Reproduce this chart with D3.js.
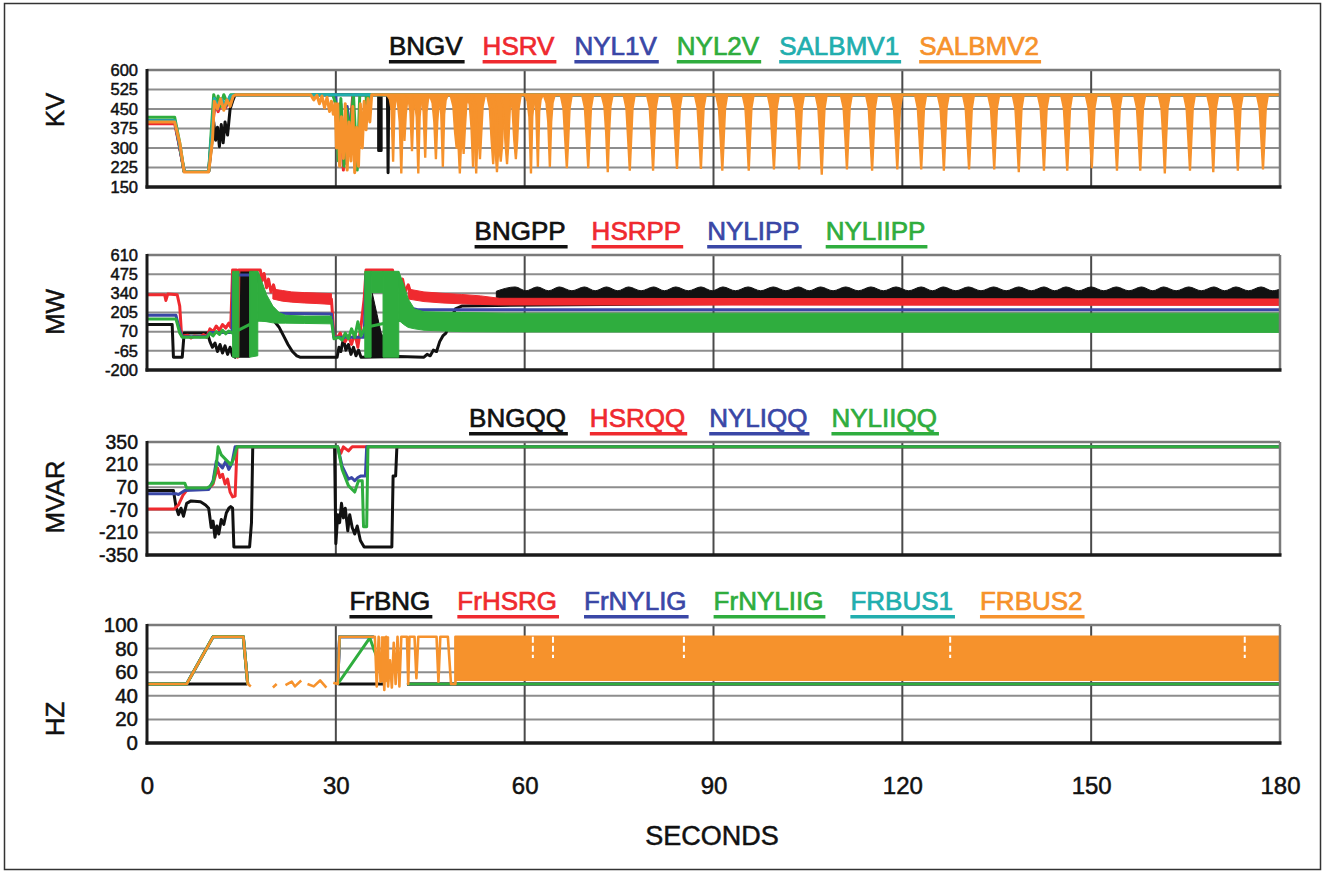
<!DOCTYPE html>
<html><head><meta charset="utf-8">
<script src="https://cdn.jsdelivr.net/npm/d3@7"></script>
<style>html,body{margin:0;padding:0;background:#fff;} svg{display:block;}</style>
</head><body>
<svg id="chart" width="1329" height="875"></svg>
<script>
// ================= DATA =================
const timeTicks = [0, 30, 60, 90, 120, 150, 180];
const timeTitle = "SECONDS";

// ---- Panel 1 : KV ----
const kvTicks = [600, 525, 450, 375, 300, 225, 150];
const kvNames = ["BNGV", "HSRV", "NYL1V", "NYL2V", "SALBMV1", "SALBMV2"];
const bngv = [[0,405],[4.4,405],[5.2,300],[5.9,210],[9.8,210],[10.3,320],[10.6,400],[10.9,330],[11.2,380],[11.5,305],[11.8,390],[12.1,320],[12.4,400],[12.8,350],[13.2,450],[13.6,480],[14,505],[36.8,505],[36.8,290],[37.2,290],[37.2,505],[38.2,505],[38.3,205],[38.4,505],[180,505]];
const hsrv = [[0,393],[4.4,393],[5.2,300],[5.9,210],[9.8,210],[10.4,380],[10.8,470],[11.3,440],[11.8,470],[12.5,455],[13.2,490],[14,505],[29.8,505],[30.3,330],[30.7,470],[31.2,215],[31.6,450],[32.2,360],[32.7,505],[180,505]];
const nyl1v = [[0,405],[4.4,405],[5.2,305],[5.9,210],[9.8,210],[10.4,390],[10.8,480],[11.3,450],[11.8,480],[12.5,460],[13.2,495],[14,505],[30,505],[30.4,290],[30.8,470],[31.4,240],[31.8,460],[32.4,330],[32.8,505],[180,505]];
const nyl2v = [[0,418],[4.4,418],[5.2,320],[5.9,210],[9.8,210],[10.3,400],[10.6,505],[11,470],[11.3,500],[11.7,460],[12.2,505],[12.8,470],[13.3,505],[29.5,505],[30,470],[30.4,250],[30.8,490],[31.3,230],[31.7,450],[32.2,350],[32.8,505],[33.4,215],[33.8,505],[34.8,505],[35,420],[35.2,505],[180,505]];
const salbmv1 = [[0,405],[4.4,405],[5.2,310],[5.9,210],[9.8,210],[10.4,395],[10.7,490],[11.3,460],[11.8,490],[12.5,465],[13.2,500],[14,505],[180,505]];
const salbmv2 = [[0,400],[4.4,400],[5.2,320],[5.9,208],[9.8,208],[10.4,330],[10.7,480],[11.2,450],[11.7,490],[12.2,445],[12.7,485],[13.2,460],[13.7,500],[14.1,505],[26,505],[26.5,485],[27,503],[27.4,470],[27.8,500],[28.2,455],[28.6,495],[29,440],[29.3,480],[29.6,430],[29.9,470],[30.1,300],[30.3,470],[30.6,230],[30.9,420],[31.2,260],[31.5,470],[31.8,215],[32.1,400],[32.4,250],[32.7,460],[33,205],[33.3,380],[33.6,230],[33.9,470],[34.2,300],[34.5,480],[34.8,370],[35.1,490],[35.4,400],[35.7,505],[180,505]];
// SALBMV2 periodic voltage dips (time, level of dense part, minimum)
const kvDipTop = 505;
const kvDipT    = [39.1,40.4,40.9,42.1,43.1,44.2,45.9,47.0,49.2,49.7,50.3,51.8,52.3,52.9,55.0,55.6,56.2,57.2,58.6,61.0,62.1,64.0,66.7,70.1,73.2,76.7,80.4,84.2,88.0,91.4,95.6,99.6,103.6,107.2,111.2,115.2,119.2,123.0,126.6,130.6,134.6,138.5,142.5,146.2,150.1,154.1,157.8,161.7,165.7,169.4,173.3,177.3];
const kvDipCore = [450,400,430,440,420,440,400,430,360,330,380,380,370,360,330,300,310,320,330,420,440,400,330,340,360,330,340,330,340,330,340,330,340,330,340,330,340,330,340,330,340,330,340,330,340,330,340,340,330,340,340,330];
const kvDipMin  = [250,205,330,290,205,265,260,230,300,205,280,230,205,260,240,210,250,240,260,205,230,230,225,225,210,215,215,222,222,215,215,220,220,200,220,215,220,220,215,220,220,210,215,215,225,215,215,205,215,210,215,220];

// ---- Panel 2 : MW ----
const mwTicks = [610, 475, 340, 205, 70, -65, -200];
const mwNames = ["BNGPP", "HSRPP", "NYLIPP", "NYLIIPP"];
const bngpp = [[0,120],[4.0,120],[4.2,-110],[5.6,-110],[5.9,60],[9.6,60],[10,0],[10.4,-40],[10.8,-10],[11.2,-70],[11.6,-20],[12,-80],[12.4,-30],[12.8,-90],[13.2,-40],[13.6,-100],[14,-110],[14.3,490],[16.6,490],[17,480],[17.5,440],[18,400],[18.5,330],[19,250],[19.5,170],[20.3,140],[21,100],[21.7,40],[22.4,-20],[23.1,-70],[23.8,-100],[24.3,-110],[30.2,-110],[30.5,-40],[30.8,-70],[31.2,20],[31.6,-60],[32,-20],[32.4,-90],[32.8,-40],[33.2,-100],[33.6,-60],[34,-110],[40,-105],[44,-110],[44.5,-90],[45,-100],[45.5,-60],[46,-70],[46.5,0],[47,40],[47.5,60],[48,120],[48.5,180],[49,230],[50,250],[55.5,255],[180,300]];
const bngppBands = [
  [[14.6,-110,495],[16.3,-110,495]],
  [[35.2,-110,100],[35.8,-110,340],[36.5,-110,200],[37.2,-110,60],[38,-110,0],[39,-110,-60],[40,-110,-100]],
  [[55.5,295,355],[58.5,295,385],[60.2,295,358],[62,295,385],[63.8,295,358],[65.5,295,385],[67.5,295,358],[69.5,295,385],[71.2,295,358],[73,295,385],[74.8,295,358],[76.5,295,385],[78.5,295,358],[80.5,295,385],[82.2,295,358],[84,295,385],[86,295,358],[88,295,385],[89.8,295,358],[91.5,295,385],[93.5,295,358],[95.5,295,385],[97.5,295,358],[99.5,295,385],[101.5,295,358],[103.5,295,385],[105.2,295,358],[107,295,385],[109,295,358],[111,295,385],[113,295,358],[115,295,385],[117,295,358],[119,295,385],[121,295,358],[123,295,385],[124.8,295,358],[126.5,295,385],[128.5,295,358],[130.5,295,385],[132.5,295,358],[134.5,295,385],[136.5,295,358],[138.5,295,385],[140.5,295,358],[142.5,295,385],[144.2,295,358],[146,295,385],[148,295,358],[150,295,385],[152,295,358],[154,295,385],[156,295,358],[158,295,385],[159.8,295,358],[161.5,295,385],[163.5,295,358],[165.5,295,385],[167.5,295,358],[169.5,295,385],[171.2,295,358],[173,295,385],[175,295,358],[177,295,385],[178.8,295,358],[180,295,370]]
];
const hsrpp = [[0,330],[2.8,330],[3.0,290],[3.3,335],[4.8,330],[5.2,250],[5.5,40],[6.5,45],[7,25],[7.5,40],[8.5,35],[9,50],[9.5,30],[10,90],[10.5,70],[11,110],[11.5,80],[12,120],[12.5,95],[13,130],[13.3,100],[13.6,505],[14.2,505],[14.4,-110],[14.6,505],[18,505],[18.3,430],[18.6,480],[19,380],[19.3,440],[19.7,350],[20.1,400],[20.5,330],[29.3,300],[29.7,40],[30.3,30],[30.7,60],[31,20],[31.5,0],[32,40],[32.5,-20],[33,60],[33.5,-40],[34,110],[34.5,300],[34.8,505],[39,505],[39.4,420],[39.8,480],[40.2,380],[40.6,440],[41,350],[41.5,400],[42,330],[56,280],[180,278]];
const hsrppBands = [
  [[20,300,370],[21.5,285,360],[23,278,350],[25,272,345],[27,268,342],[29.3,262,338]],
  [[41.5,300,370],[44,282,350],[47,272,340],[50,266,332],[53,262,322],[56,258,305],[180,255,300]]
];
const nylipp = [[0,185],[4.6,185],[5.2,80],[5.6,35],[9.5,35],[10,65],[13.5,65],[13.7,470],[17.6,470],[18.3,320],[19,230],[20,200],[29.3,195],[29.7,30],[34.5,30],[34.8,470],[39.8,470],[40.5,320],[41.5,240],[43,225],[180,225]];
const nyliipp = [[0,160],[4.6,160],[5.2,60],[5.6,30],[9.5,30],[10,60],[10.5,40],[11,70],[11.5,50],[12,80],[12.5,55],[13,75],[13.6,60],[17.6,150],[29.3,150],[29.7,20],[30.5,30],[31,10],[31.5,60],[32,20],[32.5,90],[33,30],[33.5,140],[34,40],[34.6,100],[40,150],[180,130]];
const nyliippBands = [
  [[13.6,-110,495],[14.6,-110,495]],
  [[16.3,-110,495],[17.6,-100,495]],
  [[17.6,150,495],[18.2,145,430],[19,140,330],[20,132,250],[21,130,205],[22,130,185],[25,128,180],[29.3,125,180]],
  [[34.6,-110,495],[35.6,-110,495]],
  [[35.6,345,495],[37.5,345,495]],
  [[37.5,-110,495],[40,-110,495]],
  [[40,150,495],[40.8,120,400],[41.5,100,300],[42.5,90,230],[44,80,210],[50,70,205],[57,68,200],[180,65,200]]
];

// ---- Panel 3 : MVAR ----
const mvarTicks = [350, 210, 70, -70, -210, -350];
const mvarNames = ["BNGQQ", "HSRQQ", "NYLIQQ", "NYLIIQQ"];
const bngqq = [[0,50],[4.2,50],[4.6,-50],[5,-100],[5.4,-60],[5.8,-110],[6.3,-30],[7,-15],[8.5,-20],[9.3,-40],[9.8,-60],[10.2,-180],[10.5,-140],[10.8,-240],[11.1,-170],[11.4,-220],[11.8,-130],[12.2,-160],[12.6,-90],[13,-60],[13.3,-50],[13.6,-60],[13.8,-300],[16.3,-300],[16.6,-150],[16.8,320],[29.8,320],[30,-280],[30.3,-100],[30.6,-150],[30.9,-30],[31.2,-120],[31.5,-60],[31.9,-200],[32.2,-100],[32.6,-180],[33,-220],[33.4,-170],[33.9,-260],[34.5,-300],[38.9,-300],[39.1,140],[39.5,140],[39.7,320],[180,320]];
const hsrqq = [[0,-65],[4.3,-65],[5,-40],[5.7,20],[6.3,50],[7,60],[9.8,60],[10.5,90],[11.2,190],[11.6,130],[12,150],[12.4,90],[12.8,120],[13.2,40],[13.6,10],[14,15],[14.3,320],[30.3,320],[30.8,280],[31.2,320],[32,295],[32.6,320],[180,320]];
const nyliqq = [[0,30],[4.6,30],[5,25],[6,50],[9.8,55],[10.5,110],[11,230],[11.5,210],[12,190],[12.5,230],[13,180],[13.5,220],[14,320],[30.3,320],[31,200],[31.5,160],[32,120],[32.5,130],[33,110],[33.5,130],[34,140],[34.7,140],[34.9,320],[180,320]];
const nyliiqq = [[0,95],[6,95],[6.3,65],[9.5,65],[10,75],[10.5,100],[11,200],[11.3,320],[11.8,270],[12.3,250],[12.8,230],[13.3,210],[13.7,240],[14.3,320],[30.3,320],[31,180],[32,80],[33,40],[33.6,110],[34.2,110],[34.4,-175],[34.9,-175],[35.1,320],[180,320]];

// ---- Panel 4 : HZ ----
const hzTicks = [100, 80, 60, 40, 20, 0];
const hzNames = ["FrBNG", "FrHSRG", "FrNYLIG", "FrNYLIIG", "FRBUS1", "FRBUS2"];
const frbng   = [[0,50],[15.9,50],[16,null],[30.4,50],[37.8,50],[37.9,null],[41.3,50],[180,50]];
const frhsrg  = [[0,50],[6.3,50],[10.5,90],[15.3,90],[16,50],[16.1,null],[30.3,50],[30.6,90],[36,90],[36.2,null],[41.3,50],[180,50]];
const frnylig = [[0,50],[6.3,50],[10.5,90],[15.3,90],[16,50],[16.1,null],[30.3,50],[30.6,90],[36,90],[36.2,null],[41.3,50],[180,50]];
const frnyliig= [[0,50],[6.3,50],[10.5,90],[15.3,90],[16,50],[16.1,null],[30.3,50],[35.4,89],[36,80],[37.5,60],[37.6,null],[41.3,50],[180,50]];
const frbus1  = [[0,50],[6.3,50],[10.5,90],[15.3,90],[16,50],[16.1,null],[30.3,50],[30.6,90],[36,90],[36.2,null]];
const frbus2  = [[0,50],[6.3,50],[10.5,90],[15.3,90],[16,50],[16.5,48],[17,null],[20,47],[20.6,50],[21,null],[22,49],[23,52],[23.5,48],[24.5,53],[25,null],[25.5,50],[26.5,48],[27.5,53],[28.5,47],[29.3,null],[29.6,51],[30.3,50],[30.6,90],[36.2,90],[36.5,48],[36.8,90],[37.1,52],[37.4,85],[37.7,45],[38,90],[38.3,48],[38.6,70],[38.9,47],[39.2,85],[39.5,50],[39.8,90],[40.1,48],[40.4,90],[41.3,90],[41.5,50],[41.7,90],[42.5,90],[42.8,55],[43.1,90],[46,90],[46.3,52],[46.6,90],[47.8,90],[48.3,50],[49,50],[49,90],[180,90]];
const frbus2Band = [[37.2,52,90],[38.4,52,90]];
const frbus2Dense = [[49,53,90],[180,53,90]];
const frbus2GapT = [61.3, 64.5, 85.3, 127.6, 174.4];
const frbus2GapRange = [72, 90];

// ================= DRAWING =================
const FONT = "'Liberation Sans', Arial, Helvetica, sans-serif";
const C = {black:"#111111", red:"#ef2a2f", blue:"#3a47a6", green:"#2fad3e", teal:"#22aeae", orange:"#f6922c"};
const svg = d3.select("#chart");
svg.append("rect").attr("width",1329).attr("height",875).attr("fill","#fff");
svg.append("rect").attr("x",4.5).attr("y",3.5).attr("width",1316).attr("height",866)
  .attr("fill","none").attr("stroke","#333").attr("stroke-width",1.5);

const plotL = 147, plotR = 1280;
const x = d3.scaleLinear().domain([0, 180]).range([plotL, plotR]);
const defs = svg.append("defs");

function makePanel(cfg, idx) {
  const y = d3.scaleLinear().domain(cfg.domain).range([cfg.bottom, cfg.top]);
  const g = svg.append("g");
  defs.append("clipPath").attr("id","clip"+idx).append("rect")
    .attr("x",plotL).attr("y",cfg.top).attr("width",plotR-plotL).attr("height",cfg.bottom-cfg.top);
  g.selectAll("line.hg").data(cfg.ticks.filter(v => v !== cfg.domain[0] && v !== cfg.domain[1]))
    .join("line").attr("class","hg")
    .attr("x1",plotL).attr("x2",plotR).attr("y1",d=>y(d)).attr("y2",d=>y(d))
    .attr("stroke","#8d8d8d").attr("stroke-width",2);
  g.selectAll("line.vg").data(timeTicks.slice(1,-1)).join("line").attr("class","vg")
    .attr("x1",d=>x(d)).attr("x2",d=>x(d)).attr("y1",cfg.top).attr("y2",cfg.bottom)
    .attr("stroke","#4a4a4a").attr("stroke-width",2);
  const ax = g.append("g").attr("transform",`translate(${plotL},0)`)
    .call(d3.axisLeft(y).tickValues(cfg.ticks).tickSize(0).tickPadding(9).tickFormat(d => String(d)));
  ax.select(".domain").remove();
  ax.selectAll("text").attr("font-family",FONT).attr("font-size",cfg.tickFont).attr("fill","#111")
    .attr("stroke","#111").attr("stroke-width",0.5);
  g.append("text").attr("transform",`translate(${cfg.titleX},${cfg.titleY}) rotate(-90)`)
    .attr("text-anchor","middle").attr("dominant-baseline","central")
    .attr("font-family",FONT).attr("font-size",26).attr("fill","#111").attr("stroke","#111").attr("stroke-width",0.5).text(cfg.title);
  const lg = g.append("g");
  const texts = cfg.names.map((n,i) => lg.append("text").text(n).attr("font-family",FONT)
      .attr("font-size",26).attr("fill",cfg.colors[i]).attr("stroke",cfg.colors[i]).attr("stroke-width",0.7)
      .attr("y",cfg.top-15));
  const widths = texts.map(t => t.node().getComputedTextLength());
  let cx = cfg.legendCenter - (d3.sum(widths) + cfg.legendGap*(widths.length-1))/2;
  texts.forEach((t,i) => {
    t.attr("x",cx);
    lg.append("rect").attr("x",cx).attr("y",cfg.top-10).attr("width",widths[i]+2).attr("height",3.5).attr("fill",cfg.colors[i]);
    cx += widths[i] + cfg.legendGap;
  });
  const data = g.append("g").attr("clip-path",`url(#clip${idx})`);
  return {y, g, data, cfg};
}

function finishPanel(p) {
  const {cfg, g} = p;
  g.append("line").attr("x1",plotL).attr("x2",plotR).attr("y1",cfg.top).attr("y2",cfg.top).attr("stroke","#7a7a7a").attr("stroke-width",2.5);
  g.append("line").attr("x1",plotR).attr("x2",plotR).attr("y1",cfg.top).attr("y2",cfg.bottom).attr("stroke","#7a7a7a").attr("stroke-width",2.5);
  g.append("line").attr("x1",plotL).attr("x2",plotL).attr("y1",cfg.top-1).attr("y2",cfg.bottom+1.5).attr("stroke","#1a1a1a").attr("stroke-width",3);
  g.append("line").attr("x1",plotL-1.5).attr("x2",plotR+1.5).attr("y1",cfg.bottom).attr("y2",cfg.bottom).attr("stroke","#1a1a1a").attr("stroke-width",3.5);
}

function drawLine(p, pts, color, w) {
  const line = d3.line().defined(d => d[1] !== null).x(d => x(d[0])).y(d => p.y(d[1]));
  p.data.append("path").attr("d", line(pts)).attr("fill","none").attr("stroke",color)
    .attr("stroke-width", w || 3).attr("stroke-linejoin","round");
}
function drawBand(p, pts, color, curve) {
  const area = d3.area().x(d => x(d[0])).y0(d => p.y(d[1])).y1(d => p.y(d[2]));
  if (curve) area.curve(curve);
  p.data.append("path").attr("d", area(pts)).attr("fill", color).attr("stroke",color).attr("stroke-width",1);
}

const legendColors6 = [C.black, C.red, C.blue, C.green, C.teal, C.orange];
const legendColors4 = [C.black, C.red, C.blue, C.green];

// ---- Panel 1
const p1 = makePanel({top:70, bottom:187, domain:[150,600], ticks:kvTicks, tickFont:16.5, title:"KV", titleX:55, titleY:110,
  names:kvNames, colors:legendColors6, legendCenter:714, legendGap:20}, 1);
drawLine(p1, bngv, C.black);
drawLine(p1, hsrv, C.red);
drawLine(p1, nyl1v, C.blue);
drawLine(p1, nyl2v, C.green);
drawLine(p1, salbmv1, C.teal);
drawLine(p1, salbmv2, C.orange);
const dipShape = d3.line().x(d => x(d[0])).y(d => p1.y(d[1]));
kvDipT.forEach((t,i) => {
  const top = kvDipTop, core = kvDipCore[i], mn = kvDipMin[i];
  const shoulder = top - (top - core) * 0.3;
  const shape = [[t-1.05,top],[t-0.6,shoulder],[t-0.32,core],[t-0.07,mn],[t+0.07,mn],[t+0.28,core],[t+0.5,shoulder],[t+0.85,top]];
  p1.data.append("path").attr("d", dipShape(shape) + "Z").attr("fill",C.orange).attr("stroke",C.orange).attr("stroke-width",1.5);
});
finishPanel(p1);

// ---- Panel 2
const p2 = makePanel({top:255, bottom:370, domain:[-200,610], ticks:mwTicks, tickFont:16.5, title:"MW", titleX:55, titleY:312,
  names:mwNames, colors:legendColors4, legendCenter:700, legendGap:26}, 2);
drawLine(p2, bngpp, C.black);
drawBand(p2, bngppBands[0], C.black);
drawBand(p2, bngppBands[1], C.black);
drawBand(p2, bngppBands[2], C.black, d3.curveMonotoneX);
drawLine(p2, hsrpp, C.red);
hsrppBands.forEach(b => drawBand(p2, b, C.red));
drawLine(p2, nylipp, C.blue);
drawLine(p2, nyliipp, C.green);
nyliippBands.forEach(b => drawBand(p2, b, C.green));
finishPanel(p2);

// ---- Panel 3
const p3 = makePanel({top:442, bottom:555, domain:[-350,350], ticks:mvarTicks, tickFont:19.5, title:"MVAR", titleX:55, titleY:497,
  names:mvarNames, colors:legendColors4, legendCenter:703, legendGap:24}, 3);
drawLine(p3, bngqq, C.black);
drawLine(p3, hsrqq, C.red);
drawLine(p3, nyliqq, C.blue);
drawLine(p3, nyliiqq, C.green);
finishPanel(p3);

// ---- Panel 4
const p4 = makePanel({top:625, bottom:743, domain:[0,100], ticks:hzTicks, tickFont:20.5, title:"HZ", titleX:55, titleY:719,
  names:hzNames, colors:legendColors6, legendCenter:716, legendGap:27}, 4);
drawLine(p4, frbng, C.black);
drawLine(p4, frhsrg, C.red);
drawLine(p4, frnylig, C.blue);
drawLine(p4, frbus1, C.teal);
drawLine(p4, frnyliig, C.green);
drawLine(p4, frbus2, C.orange, 2.6);
drawBand(p4, frbus2Band, C.orange);
drawBand(p4, frbus2Dense, C.orange);
p4.data.selectAll("line.gap").data(frbus2GapT).join("line").attr("class","gap")
  .attr("x1",d=>x(d)).attr("x2",d=>x(d)).attr("y1",p4.y(frbus2GapRange[1])).attr("y2",p4.y(frbus2GapRange[0]))
  .attr("stroke","#fff").attr("stroke-width",2).attr("stroke-dasharray","6,3");
finishPanel(p4);

// ---- X axis
const xa = svg.append("g").attr("transform",`translate(0,${p4.cfg.bottom})`)
  .call(d3.axisBottom(x).tickValues(timeTicks).tickSize(0).tickPadding(34).tickFormat(d => String(d)));
xa.select(".domain").remove();
xa.selectAll("text").attr("font-family",FONT).attr("font-size",24).attr("fill","#111").attr("stroke","#111").attr("stroke-width",0.5);
svg.append("text").attr("x",712).attr("y",845).attr("text-anchor","middle")
  .attr("font-family",FONT).attr("font-size",27).attr("fill","#111").attr("stroke","#111").attr("stroke-width",0.5).text(timeTitle);
</script>
</body></html>
